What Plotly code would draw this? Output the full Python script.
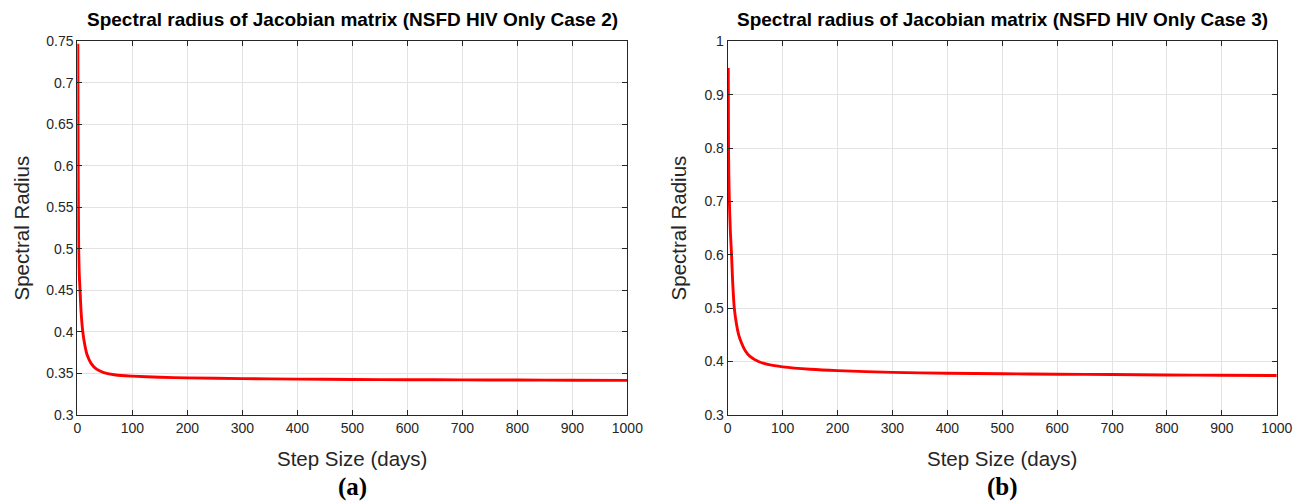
import plotly.graph_objects as go

# ---- data ----
step_a = [1, 1.5, 2, 2.5, 3.5, 5, 7, 10, 14, 18, 25, 35, 48, 70, 100, 150, 200,
          300, 400, 500, 600, 700, 800, 900, 1000]
rho_a = [0.747, 0.62, 0.55, 0.50, 0.47, 0.45, 0.423, 0.40, 0.383, 0.372, 0.362,
         0.355, 0.351, 0.348, 0.3466, 0.3452, 0.3445, 0.3436, 0.3430, 0.3426,
         0.3423, 0.3421, 0.3419, 0.3417, 0.3415]

step_b = [1, 1.5, 2, 3, 5, 7, 9, 12, 16, 20, 25, 32, 40, 56, 75, 100, 150, 200,
          300, 400, 500, 600, 700, 800, 900, 1000]
rho_b = [0.95, 0.80, 0.75, 0.70, 0.64, 0.60, 0.55, 0.50, 0.47, 0.45, 0.435, 0.42,
         0.41, 0.40, 0.394, 0.390, 0.3855, 0.3828, 0.3796, 0.378, 0.377, 0.3762,
         0.3755, 0.3748, 0.3742, 0.3737]

x_ticks = [0, 100, 200, 300, 400, 500, 600, 700, 800, 900, 1000]
y_ticks_a = [0.3, 0.35, 0.4, 0.45, 0.5, 0.55, 0.6, 0.65, 0.7, 0.75]
y_ticks_b = [0.3, 0.4, 0.5, 0.6, 0.7, 0.8, 0.9, 1.0]
titles = ["Spectral radius of Jacobian matrix (NSFD HIV Only Case 2)",
          "Spectral radius of Jacobian matrix (NSFD HIV Only Case 3)"]
panel_labels = ["(a)", "(b)"]

# figure size (page has an 8px body margin); positions below are given in
# picture pixels and converted with the observed capture mapping
W, H = 1320, 530
OFF = 8
SX, OX = 0.9865, 2.7
SY, OY = 0.966, 7.0
FONT = "Liberation Sans, Arial, sans-serif"


def px(X):  # picture pixel -> paper fraction (x)
    return ((X - OX) / SX - OFF) / W


def py(Y):  # picture pixel -> paper fraction (y)
    return 1 - ((Y - OY) / SY - OFF) / H


fig = go.Figure()
line_style = dict(color="#ff0000", width=2.9, shape="spline", smoothing=0.6)
fig.add_trace(go.Scatter(x=step_a, y=rho_a, mode="lines", line=line_style,
                         xaxis="x", yaxis="y", showlegend=False))
fig.add_trace(go.Scatter(x=step_b, y=rho_b, mode="lines", line=line_style,
                         xaxis="x2", yaxis="y2", showlegend=False))

ydom = [py(412), py(40)]
xdom_a = [px(76), px(627)]
xdom_b = [px(727.5), px(1277.5)]


def fmt(v):
    return ("%.2f" % v).rstrip("0").rstrip(".")


axis_common = dict(showline=True, linecolor="#262626", linewidth=1, mirror="ticks",
                   ticks="inside", ticklen=5, tickcolor="#262626", showgrid=True,
                   gridcolor="#e3e3e3", gridwidth=1, zeroline=False,
                   tickfont=dict(family=FONT, size=14, color="#262626"))

fig.update_layout(
    width=W, height=H, margin=dict(l=0, r=0, t=0, b=0),
    paper_bgcolor="white", plot_bgcolor="white",
    xaxis=dict(domain=xdom_a, range=[0, 1000], tickvals=x_ticks, ticktext=[str(v) for v in x_ticks],
               anchor="y", **axis_common),
    yaxis=dict(domain=ydom, range=[0.3, 0.75], tickvals=y_ticks_a, ticktext=[fmt(v) for v in y_ticks_a],
               anchor="x", **axis_common),
    xaxis2=dict(domain=xdom_b, range=[0, 1000], tickvals=x_ticks, ticktext=[str(v) for v in x_ticks],
                anchor="y2", **axis_common),
    yaxis2=dict(domain=ydom, range=[0.3, 1.0], tickvals=y_ticks_b, ticktext=[fmt(v) for v in y_ticks_b],
                anchor="x2", **axis_common),
)

ann = []
for xd, t, pl in zip([xdom_a, xdom_b], titles, panel_labels):
    cx = (xd[0] + xd[1]) / 2
    ann.append(dict(text="<b>" + t + "</b>", x=cx, y=py(18), xref="paper", yref="paper",
                    showarrow=False, xanchor="center", yanchor="middle",
                    font=dict(family=FONT, size=19, color="black")))
    ann.append(dict(text="Step Size (days)", x=cx, y=py(455), xref="paper", yref="paper",
                    showarrow=False, xanchor="center", yanchor="middle",
                    font=dict(family=FONT, size=20.5, color="#262626")))
    ann.append(dict(text="<b>" + pl + "</b>", x=cx, y=py(484), xref="paper", yref="paper",
                    showarrow=False, xanchor="center", yanchor="middle",
                    font=dict(family="Liberation Serif, Times New Roman, serif", size=25, color="black")))
for lx in (20, 678):
    ann.append(dict(text="Spectral Radius", x=px(lx), y=py(226), xref="paper", yref="paper",
                    showarrow=False, textangle=-90, xanchor="center", yanchor="middle",
                    font=dict(family=FONT, size=20.5, color="#262626")))
fig.update_layout(annotations=ann)

fig.write_html("out.html", config={"displayModeBar": False})
